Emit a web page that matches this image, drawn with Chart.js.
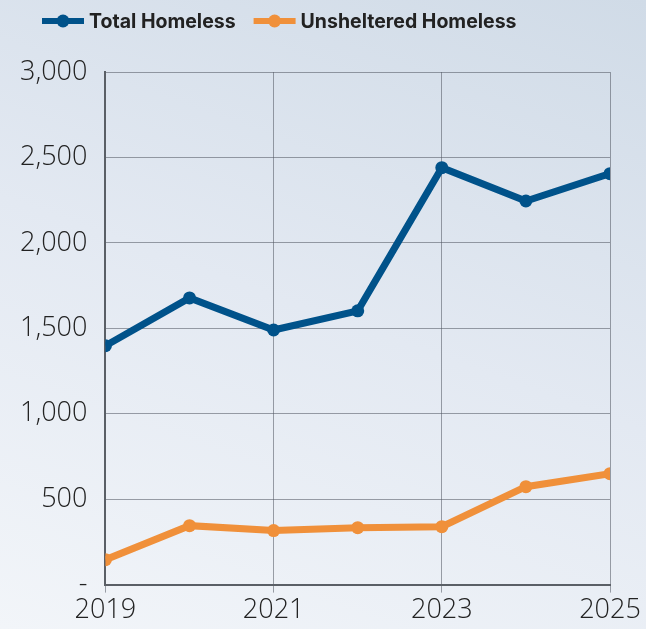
<!DOCTYPE html>
<html>
<head>
<meta charset="utf-8">
<script src="https://cdn.jsdelivr.net/npm/chart.js@4/dist/chart.umd.min.js"></script>
<style>
  html, body { margin: 0; padding: 0; }
  body {
    width: 646px; height: 629px; overflow: hidden;
    background: linear-gradient(20deg, #f2f5f9 0%, #e3e9f2 50%, #d0dbe7 100%);
  }
  #wrap { position: relative; width: 646px; height: 629px; }
</style>
</head>
<body>
<div id="wrap"><canvas id="chart"></canvas></div>
<script>
const years = [2019, 2020, 2021, 2022, 2023, 2024, 2025];
const totalHomeless = [1398, 1678, 1490, 1602, 2440, 2245, 2405];
const unshelteredHomeless = [146, 345, 316, 333, 339, 573, 649];
const xTicks = [2019, 2021, 2023, 2025];

const BLUE = '#00528a';
const ORANGE = '#f0903a';
const TEXT = '#222222';
const TICK_FONT = { family: '"Open Sans", sans-serif', size: 27, weight: 300 };

function toPoints(values) {
  return years.map((yr, i) => ({ x: yr, y: values[i] }));
}

// legend drawn by hand: line + dot icon, bold label
const topLegend = {
  id: 'topLegend',
  afterDraw(chart) {
    const c = chart.ctx;
    const sets = chart.data.datasets;
    const iconW = 42, gapIcon = 5, gapItem = 18, cy = 21;
    c.save();
    c.font = 'bold 19.5px Inter, "Open Sans", sans-serif';
    c.textBaseline = 'middle';
    let x = 42;
    sets.forEach(ds => {
      c.fillStyle = ds.borderColor;
      c.fillRect(x, cy - 3, iconW, 6);
      c.beginPath();
      c.arc(x + iconW / 2, cy, 6.5, 0, Math.PI * 2);
      c.fill();
      c.fillStyle = TEXT;
      c.fillText(ds.label, x + iconW + gapIcon, cy + 1);
      x += iconW + gapIcon + c.measureText(ds.label).width + gapItem;
    });
    c.restore();
  }
};

const ctx = document.getElementById('chart').getContext('2d');
new Chart(ctx, {
  type: 'line',
  data: {
    datasets: [
      {
        label: 'Total Homeless',
        data: toPoints(totalHomeless),
        borderColor: BLUE,
        backgroundColor: BLUE,
        borderWidth: 7,
        pointRadius: 6.5,
        pointBackgroundColor: BLUE,
        pointBorderWidth: 0,
        tension: 0
      },
      {
        label: 'Unsheltered Homeless',
        data: toPoints(unshelteredHomeless),
        borderColor: ORANGE,
        backgroundColor: ORANGE,
        borderWidth: 7,
        pointRadius: 6.5,
        pointBackgroundColor: ORANGE,
        pointBorderWidth: 0,
        tension: 0
      }
    ]
  },
  plugins: [topLegend],
  options: {
    responsive: true,
    maintainAspectRatio: false,
    animation: false,
    layout: { padding: { left: 2, right: 36, top: 72, bottom: 0 } },
    plugins: {
      tooltip: { enabled: false },
      legend: { display: false }
    },
    scales: {
      x: {
        type: 'linear',
        min: 2019,
        max: 2025,
        afterBuildTicks(axis) {
          axis.ticks = xTicks.map(v => ({ value: v }));
        },
        grid: {
          color: 'rgba(80, 86, 96, 0.55)',
          lineWidth: 1,
          tickLength: 8
        },
        border: { color: '#5a5f66', width: 2 },
        ticks: {
          color: TEXT,
          padding: 2,
          font: TICK_FONT,
          callback: v => String(v)
        }
      },
      y: {
        min: 0,
        max: 3000,
        ticks: {
          stepSize: 500,
          color: TEXT,
          padding: 18,
          font: TICK_FONT,
          callback: v => v === 0 ? '-' : v.toLocaleString('en-US')
        },
        grid: {
          color: 'rgba(80, 86, 96, 0.55)',
          lineWidth: 1,
          tickLength: 0
        },
        border: { color: '#5a5f66', width: 2 }
      }
    }
  }
});
</script>
</body>
</html>
